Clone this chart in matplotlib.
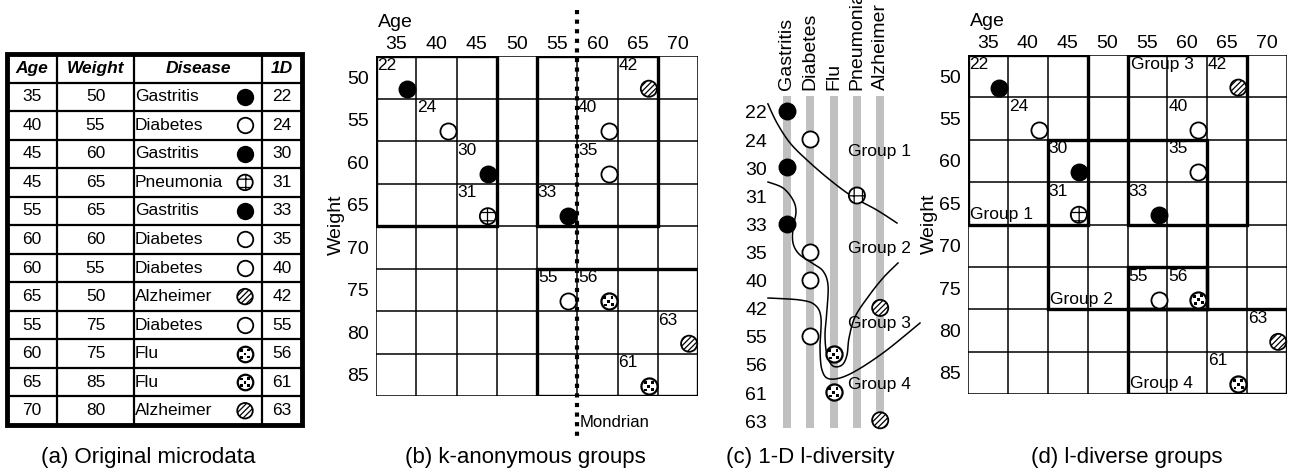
import numpy as np
import matplotlib
matplotlib.use("Agg")
import matplotlib.pyplot as plt
from matplotlib.patches import Rectangle
from matplotlib.path import Path

plt.rcParams['font.family'] = ['Liberation Sans', 'DejaVu Sans']
plt.rcParams['hatch.linewidth'] = 0.9

# --- data ---
ids = [22, 24, 30, 31, 33, 35, 40, 42, 55, 56, 61, 63]
ages = [35, 40, 45, 45, 55, 60, 60, 65, 55, 60, 65, 70]
weights = [50, 55, 60, 65, 65, 60, 55, 50, 75, 75, 85, 80]
diseases = ['Gastritis', 'Diabetes', 'Gastritis', 'Pneumonia', 'Gastritis', 'Diabetes',
            'Diabetes', 'Alzheimer', 'Diabetes', 'Flu', 'Flu', 'Alzheimer']
disease_order = ['Gastritis', 'Diabetes', 'Flu', 'Pneumonia', 'Alzheimer']
age_ticks = [35, 40, 45, 50, 55, 60, 65, 70]
weight_ticks = [50, 55, 60, 65, 70, 75, 80, 85]

# k-anonymous groups (b): record ids
groups_b = [[22, 24, 30, 31], [42, 40, 35, 33], [55, 56, 61, 63]]
mondrian_cut = 57.5

# l-diverse groups (d): (age_lo, age_hi, weight_lo, weight_hi) cell ranges
groups_d = {
    'Group 1': [(35, 45, 50, 65)],
    'Group 2': [(45, 60, 60, 75)],
    'Group 3': [(55, 65, 50, 65)],
    'Group 4': [(55, 60, 75, 75), (55, 70, 80, 85)],
}
label_corner_d = {'Group 1': 'bottom', 'Group 2': 'bottom', 'Group 3': 'top', 'Group 4': 'bottom'}

# 1-D l-diversity (c): hand drawn boundaries (disease index, 1D row)
curve1_x = [-0.82, -0.43, 0.13, 0.86, 1.85, 2.83, 3.86, 4.72]
curve1_y = [-0.36, 0.32, 1.03, 1.64, 2.35, 2.95, 3.42, 3.88]
curve2_x = [-0.815, -0.172, 0.258, 0.386, 0.258, 0.258, 0.515, 1.073, 1.545, 1.760, 1.717,
            1.631, 1.717, 1.974, 2.361, 2.575, 2.661, 2.918, 3.476, 4.120, 4.764]
curve2_y = [2.420, 2.633, 3.060, 3.488, 4.057, 4.591, 4.982, 5.302, 5.587, 6.085, 6.975,
            7.865, 8.577, 8.968, 8.932, 8.577, 7.972, 7.224, 6.512, 5.836, 5.302]
curve3_x = [-0.815, 0.558, 1.202, 1.459, 1.416, 1.502, 1.845, 2.704, 4.120, 5.708]
curve3_y = [6.548, 6.619, 6.797, 7.260, 8.292, 9.110, 9.431, 9.253, 8.505, 7.438]
group_labels_c = ['Group 1', 'Group 2', 'Group 3', 'Group 4']
group_rows_c = [1.32, 4.80, 7.47, 9.61]
nudge_c = {56: -0.35}

styles = {
    'Gastritis': dict(facecolors='black', hatch=None),
    'Diabetes': dict(facecolors='white', hatch=None),
    'Pneumonia': dict(facecolors='white', hatch='++'),
    'Alzheimer': dict(facecolors='white', hatch='//////'),
    'Flu': dict(facecolors='white', hatch=None),
}

# blotch pattern used inside the Flu marker
_sq = []
_cd = []
for cx, cy in [(-0.5, 0.45), (0.45, 0.5), (0.0, -0.05), (-0.45, -0.5), (0.5, -0.45)]:
    h = 0.19
    _sq += [(cx - h, cy - h), (cx + h, cy - h), (cx + h, cy + h), (cx - h, cy + h), (cx - h, cy - h)]
    _cd += [Path.MOVETO, Path.LINETO, Path.LINETO, Path.LINETO, Path.CLOSEPOLY]
flu_dots = Path(_sq, _cd)

W, H = 1291, 474
fig = plt.figure(figsize=(W / 100, H / 100), dpi=100)


def px_axes(left, top, right, bottom):
    return fig.add_axes([left / W, 1 - bottom / H, (right - left) / W, (bottom - top) / H])


def marker(ax, x, y, d, s=135):
    st = styles[d]
    lw = 1.6 if d == 'Flu' else 1.3
    ax.scatter([x], [y], s=s, facecolors=st['facecolors'], edgecolors='black',
               linewidths=lw, hatch=st['hatch'], zorder=5, clip_on=False)
    if d == 'Flu':
        ax.scatter([x], [y], s=s * 0.42, marker=flu_dots, facecolors='black',
                   edgecolors='none', zorder=6, clip_on=False)


def smooth(xs, ys, n=16):
    pts = np.column_stack([xs, ys])
    p = np.vstack([pts[0], pts, pts[-1]])
    t = np.linspace(0, 1, n, endpoint=False)[:, None]
    out = []
    for i in range(1, len(p) - 2):
        p0, p1, p2, p3 = p[i - 1], p[i], p[i + 1], p[i + 2]
        out.append(0.5 * (2 * p1 + (-p0 + p2) * t + (2 * p0 - 5 * p1 + 4 * p2 - p3) * t ** 2
                          + (-p0 + 3 * p1 - 3 * p2 + p3) * t ** 3))
    out.append(pts[-1][None])
    return np.vstack(out)


def grid_panel(ax):
    ax.set_xlim(32.5, 72.5)
    ax.set_ylim(87.5, 47.5)
    for x in np.arange(32.5, 73, 5):
        ax.axvline(x, color='black', lw=1.1, zorder=1)
    for y in np.arange(47.5, 88, 5):
        ax.axhline(y, color='black', lw=1.1, zorder=1)
    for s in ax.spines.values():
        s.set_visible(False)
    ax.set_xticks(age_ticks)
    ax.set_yticks(weight_ticks)
    ax.xaxis.tick_top()
    ax.tick_params(length=0, labelsize=14)
    ax.tick_params(axis='x', pad=2)
    ax.tick_params(axis='y', pad=5)
    ax.text(32.7, 43.6, 'Age', fontsize=14, ha='left', va='center', clip_on=False)
    ax.text(27.6, 67.4, 'Weight', fontsize=14, rotation=90, ha='center', va='center', clip_on=False)
    for i, a, w, d in zip(ids, ages, weights, diseases):
        ax.text(a - 2.4, w - 2.3, str(i), fontsize=12.5, ha='left', va='top', zorder=4)
        marker(ax, a + 1.4, w + 1.35, d)


# --- (a) table ---
ax_a = px_axes(7, 54, 302, 425)
col_edges = [0, 50, 127, 255, 295]
ax_a.set_xlim(0, 295)
ax_a.set_ylim(len(ids) - 0.5, -1.5)
ax_a.axis('off')
for e in col_edges[1:-1]:
    ax_a.plot([e, e], [-1.5, len(ids) - 0.5], color='black', lw=1.6)
for r in range(-1, len(ids) - 1):
    ax_a.plot([0, 295], [r + 0.5, r + 0.5], color='black', lw=1.6)
ax_a.add_patch(Rectangle((0, -1.5), 295, len(ids) + 1, fill=False, lw=3.5, ec='black', clip_on=False))
hdr = dict(fontsize=12.5, fontweight='bold', fontstyle='italic', ha='center', va='center')
ax_a.text(25, -1, 'Age', **hdr)
ax_a.text(88.5, -1, 'Weight', **hdr)
ax_a.text(191, -1, 'Disease', **hdr)
ax_a.text(275, -1, '1D', **hdr)
for r, (i, a, w, d) in enumerate(zip(ids, ages, weights, diseases)):
    ax_a.text(25, r, str(a), fontsize=12.5, ha='center', va='center')
    ax_a.text(88.5, r, str(w), fontsize=12.5, ha='center', va='center')
    ax_a.text(128, r, d, fontsize=12.5, ha='left', va='center')
    ax_a.text(275, r, str(i), fontsize=12.5, ha='center', va='center')
    marker(ax_a, 238, r, d, s=125)

# --- (b) k-anonymous groups ---
ax_b = px_axes(376, 56, 698, 396)
grid_panel(ax_b)
for g in groups_b:
    ga = [ages[ids.index(i)] for i in g]
    gw = [weights[ids.index(i)] for i in g]
    x0, x1 = min(ga) - 2.5, max(ga) + 2.5
    y0, y1 = min(gw) - 2.5, max(gw) + 2.5
    ax_b.add_patch(Rectangle((x0, y0), x1 - x0, y1 - y0, fill=False, lw=2.4, ec='black', zorder=3))
ax_b.plot([mondrian_cut, mondrian_cut], [42.1, 92.3], color='black', lw=3.0,
          ls=(0, (1, 1.3)), clip_on=False, zorder=6)
ax_b.text(mondrian_cut + 0.3, 90.6, 'Mondrian', fontsize=12, ha='left', va='center', clip_on=False)

# --- (c) 1-D l-diversity ---
ax_c = px_axes(740, 0, 930, 474)
ax_c.set_xlim((740 - 787) / 23.3, (930 - 787) / 23.3)
ax_c.set_ylim((474 - 114) / 28.1, -114 / 28.1)
ax_c.axis('off')
ax_c.bar(range(len(disease_order)), 11.81, bottom=-0.64, width=0.34, color='#c0c0c0', zorder=1)
for k, name in enumerate(disease_order):
    ax_c.text(k, -0.85, name, rotation=90, ha='center', va='bottom', fontsize=14)
for r, (i, d) in enumerate(zip(ids, diseases)):
    ax_c.text(-0.86, r, str(i), fontsize=14, ha='right', va='center')
    marker(ax_c, disease_order.index(d), r - 0.1 + nudge_c.get(i, 0), d)
for cx, cy in [(curve1_x, curve1_y), (curve2_x, curve2_y), (curve3_x, curve3_y)]:
    c = smooth(cx, cy)
    ax_c.plot(c[:, 0], c[:, 1], color='black', lw=1.1, zorder=4, clip_on=False)
for lab, gy in zip(group_labels_c, group_rows_c):
    ax_c.text(2.62, gy, lab, fontsize=12.5, ha='left', va='center', zorder=6)

# --- (d) l-diverse groups ---
ax_d = px_axes(968, 55, 1287, 394)
grid_panel(ax_d)
for lab, rects in groups_d.items():
    for a0, a1, w0, w1 in rects:
        ax_d.add_patch(Rectangle((a0 - 2.5, w0 - 2.5), a1 - a0 + 5, w1 - w0 + 5,
                                 fill=False, lw=2.4, ec='black', zorder=3))
    a0, a1, w0, w1 = rects[-1]
    if label_corner_d[lab] == 'bottom':
        ax_d.text(a0 - 2.2, w1 + 2.2, lab, fontsize=12.5, ha='left', va='bottom', zorder=4)
    else:
        ax_d.text(a0 - 2.0, w0 - 2.3, lab, fontsize=12.5, ha='left', va='top', zorder=4)

# --- captions ---
for x, txt in [(148, '(a) Original microdata'), (525, '(b) k-anonymous groups'),
               (810, '(c) 1-D l-diversity'), (1127, '(d) l-diverse groups')]:
    fig.text(x / W, 1 - 458 / H, txt, fontsize=16, ha='center', va='center')

fig.savefig('out.png', dpi=100)
